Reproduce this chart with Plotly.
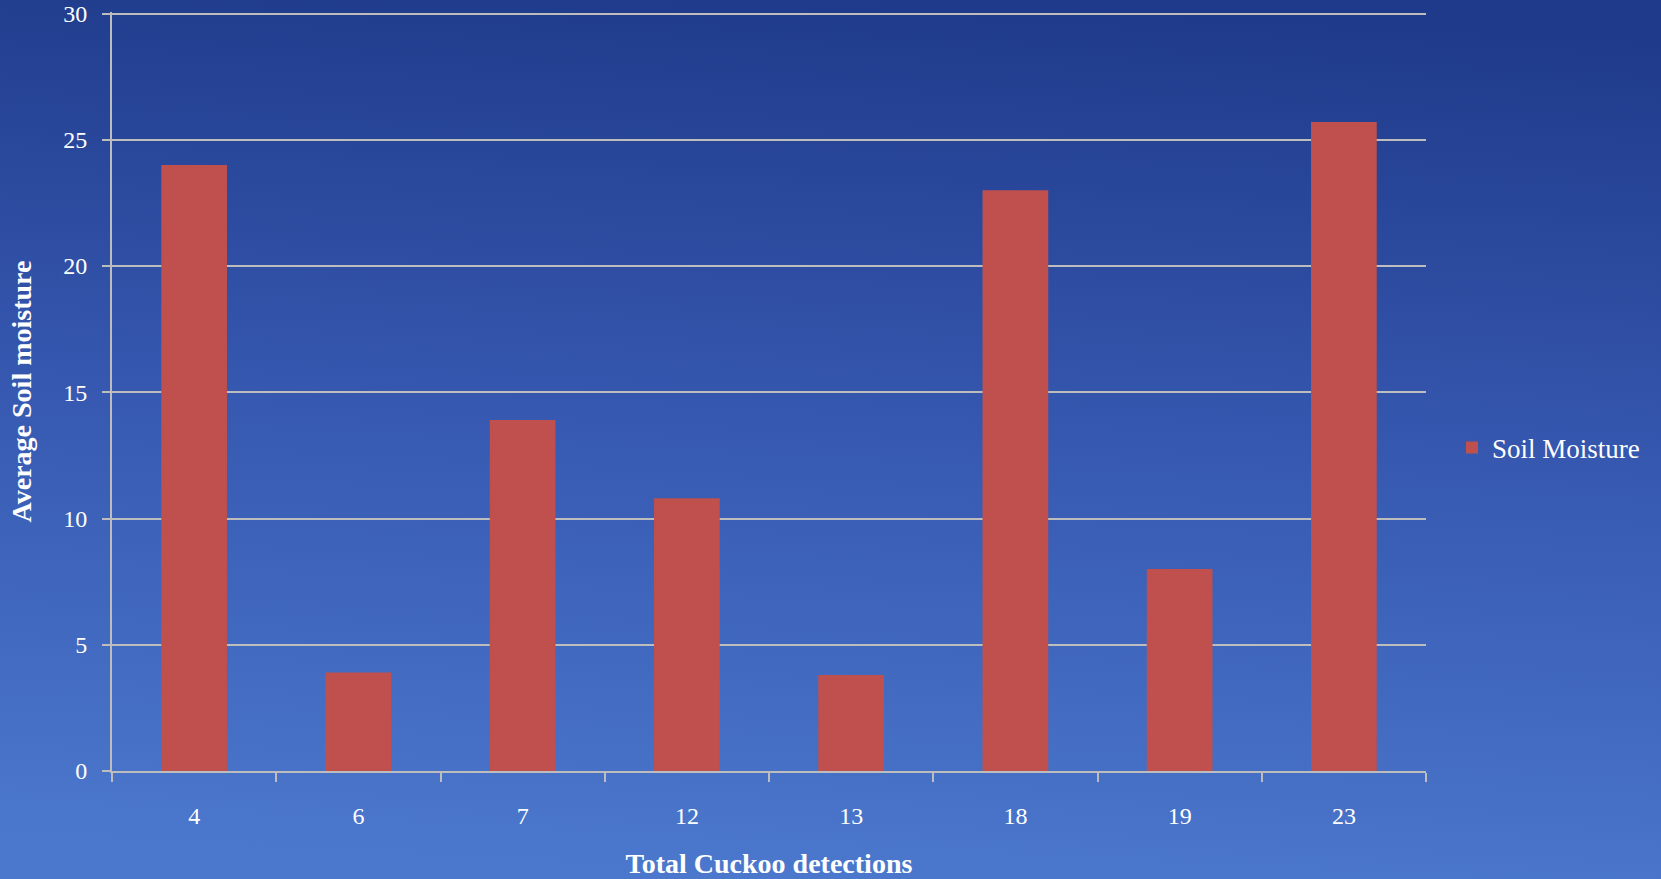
import base64
import plotly.graph_objects as go

categories = ["4", "6", "7", "12", "13", "18", "19", "23"]
soil_moisture = [24.0, 3.9, 13.9, 10.8, 3.8, 23.0, 8.0, 25.7]
y_ticks = [0, 5, 10, 15, 20, 25, 30]
series_name = "Soil Moisture"
x_title = "Total Cuckoo detections"
y_title = "Average Soil moisture"

W, H = 1661, 879
ML, MR, MT, MB = 112, 235, 12, 108
PW, PH = W - ML - MR, H - MT - MB

svg = (
    '<svg xmlns="http://www.w3.org/2000/svg" width="1661" height="879" preserveAspectRatio="none">'
    '<defs><linearGradient id="g" x1="0.55" y1="0" x2="0.45" y2="1">'
    '<stop offset="0" stop-color="#1F3A8A"/>'
    '<stop offset="0.5" stop-color="#3759B1"/>'
    '<stop offset="1" stop-color="#4B78CD"/>'
    '</linearGradient></defs>'
    '<rect width="1661" height="879" fill="url(#g)"/></svg>'
)
bg_src = "data:image/svg+xml;base64," + base64.b64encode(svg.encode()).decode()

font_family = "Liberation Serif, DejaVu Serif, serif"
grid_col = "#BDBDBD"

fig = go.Figure()
fig.add_trace(go.Bar(
    x=categories, y=soil_moisture, name=series_name,
    marker=dict(color="#C0504D", line=dict(width=0)),
))

fig.update_layout(
    width=W, height=H,
    margin=dict(l=ML, r=MR, t=MT, b=MB, autoexpand=False),
    paper_bgcolor="#2F52A6",
    plot_bgcolor="rgba(0,0,0,0)",
    bargap=0.6,
    showlegend=True,
    font=dict(family=font_family, color="white"),
    legend=dict(
        x=(1452 - ML) / PW, y=(H - MB - 448) / PH, xanchor="left", yanchor="middle",
        bgcolor="rgba(0,0,0,0)", font=dict(size=27, color="white", family=font_family),
    ),
    images=[dict(
        source=bg_src, xref="paper", yref="paper",
        x=-ML / PW, y=1 + MT / PH, sizex=W / PW, sizey=H / PH,
        xanchor="left", yanchor="top", sizing="stretch", layer="below",
    )],
    xaxis=dict(
        type="category",
        showgrid=False,
        showline=True, linecolor=grid_col, linewidth=2,
        ticks="outside", tickson="boundaries", ticklen=9, tickwidth=2, tickcolor=grid_col,
        tickfont=dict(size=24, color="white", family=font_family),
        ticklabelstandoff=22,
        title=dict(text="<b>" + x_title + "</b>", font=dict(size=28, color="white", family=font_family), standoff=29),
        automargin=False,
    ),
    yaxis=dict(
        range=[0, 30.06],
        tickvals=y_ticks,
        showgrid=True, gridcolor=grid_col, gridwidth=2,
        showline=True, linecolor=grid_col, linewidth=2,
        zeroline=False,
        ticks="outside", ticklen=8, tickwidth=2, tickcolor=grid_col,
        tickfont=dict(size=24, color="white", family=font_family),
        ticklabelstandoff=10,
        ticklabeloverflow="allow",
        title=dict(text="<b>" + y_title + "</b>", font=dict(size=28, color="white", family=font_family), standoff=23),
        automargin=False,
    ),
)

fig.write_html(
    "out.html",
    config={"displayModeBar": False},
    post_script="document.body.style.margin='0';document.body.style.overflow='hidden';",
)
